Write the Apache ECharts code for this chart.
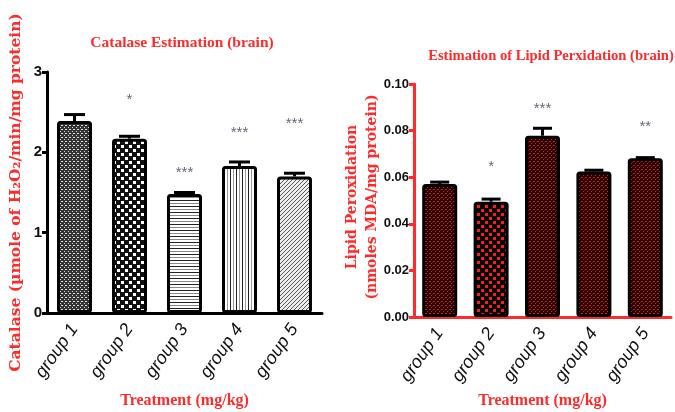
<!DOCTYPE html>
<html lang="en">
<head>
<meta charset="utf-8" />
<title>Catalase / Lipid Peroxidation</title>
<script src="https://cdn.jsdelivr.net/npm/echarts@6/dist/echarts.min.js"></script>
<style>
  html, body { margin: 0; padding: 0; background: #fff; }
  #main { width: 675px; height: 412px; }
</style>
</head>
<body>
<div id="main"></div>
<script type="text/javascript">
// categories
var groups = ['group 1', 'group 2', 'group 3', 'group 4', 'group 5'];

// catalase (left panel)
var catalaseMean = [2.39, 2.17, 1.48, 1.83, 1.70];
var catalaseErr  = [0.08, 0.03, 0.02, 0.05, 0.04];
var catalaseSig  = ['', '*', '***', '***', '***'];
var catalaseSigY = [0, 2.65, 1.74, 2.24, 2.36];

// lipid peroxidation (right panel)
var lipidMean = [0.0571, 0.0495, 0.0778, 0.0625, 0.0681];
var lipidErr  = [0.0008, 0.0011, 0.0032, 0.0005, 0.0003];
var lipidSig  = ['', '*', '***', '', '**'];
var lipidSigY = [0, 0.0645, 0.0893, 0, 0.0815];

var RED = '#ff2b2b';
var serif = '"Liberation Serif", "DejaVu Serif", serif';
var wideSerif = '"DejaVu Serif", "Liberation Serif", serif';
var sans = '"Liberation Sans", Arial, sans-serif';

// small canvas fills to mimic the hatch patterns
function pat(w, h, draw) {
    var c = document.createElement('canvas');
    c.width = w; c.height = h;
    var g = c.getContext('2d');
    draw(g);
    return { image: c, repeat: 'repeat' };
}
var leftFills = [
    pat(4, 4, function (g) { g.fillStyle = '#333'; g.fillRect(0, 0, 4, 4); g.fillStyle = '#ddd'; g.fillRect(1, 1, 2, 1); g.fillRect(0, 3, 1, 1); }),
    pat(8, 8, function (g) { g.fillStyle = '#111'; g.fillRect(0, 0, 8, 8); g.fillStyle = '#fff'; g.fillRect(1, 1, 3, 3); g.fillRect(5, 5, 3, 3); }),
    pat(6, 6, function (g) { g.fillStyle = '#fff'; g.fillRect(0, 0, 6, 6); g.fillStyle = '#222'; g.fillRect(0, 2, 6, 1); g.fillStyle = '#888'; g.fillRect(0, 5, 6, 1); }),
    pat(6, 6, function (g) { g.fillStyle = '#fff'; g.fillRect(0, 0, 6, 6); g.fillStyle = '#222'; g.fillRect(2, 0, 1, 6); g.fillStyle = '#999'; g.fillRect(5, 0, 1, 6); }),
    pat(4, 4, function (g) { g.fillStyle = '#eee'; g.fillRect(0, 0, 4, 4); g.fillStyle = '#555'; g.fillRect(3, 0, 1, 1); g.fillRect(2, 1, 1, 1); g.fillRect(1, 2, 1, 1); g.fillRect(0, 3, 1, 1); })
];
var redDense = pat(4, 4, function (g) { g.fillStyle = '#1a0000'; g.fillRect(0, 0, 4, 4); g.fillStyle = '#e81212'; g.fillRect(1, 1, 2, 1); g.fillRect(3, 3, 1, 1); g.fillStyle = '#800'; g.fillRect(0, 2, 1, 1); });
var redBig = pat(8, 8, function (g) { g.fillStyle = '#000'; g.fillRect(0, 0, 8, 8); g.fillStyle = '#ff1a1a'; g.fillRect(1, 1, 3, 3); g.fillRect(5, 5, 3, 3); });
var rightFills = [redDense, redBig, redDense, redDense, redDense];

function barData(vals, fills) {
    return vals.map(function (v, i) { return { value: v, itemStyle: { color: fills[i] } }; });
}
function errData(mean, err) {
    return mean.map(function (v, i) { return [i, v, v + err[i]]; });
}
function sigData(ys, marks) {
    var out = [];
    marks.forEach(function (m, i) { if (m) out.push({ value: [i, ys[i]], mark: m }); });
    return out;
}
function errRender(capW, color) {
    return function (params, api) {
        var lo = api.coord([api.value(0), api.value(1)]);
        var hi = api.coord([api.value(0), api.value(2)]);
        var st = { stroke: color, lineWidth: 3 };
        return {
            type: 'group',
            children: [
                { type: 'line', shape: { x1: lo[0], y1: lo[1], x2: hi[0], y2: hi[1] }, style: st },
                { type: 'line', shape: { x1: hi[0] - capW / 2, y1: hi[1], x2: hi[0] + capW / 2, y2: hi[1] }, style: st }
            ]
        };
    };
}

var chart = echarts.init(document.getElementById('main'), null, { renderer: 'canvas' });

var xLabel = { rotate: 55, fontSize: 18, fontStyle: 'italic', color: '#111', fontFamily: sans, margin: 13, interval: 0 };
var xName = { color: RED, fontWeight: 'bold', fontSize: 16, fontFamily: serif };

var option = {
    animation: false,
    backgroundColor: '#fff',
    title: [
        { text: 'Catalase Estimation (brain)', left: 177, top: 30, textAlign: 'center',
          textStyle: { color: RED, fontSize: 15.5, fontWeight: 'bold', fontFamily: serif } },
        { text: 'Estimation of Lipid Perxidation (brain)', left: 546, top: 44, textAlign: 'center',
          textStyle: { color: RED, fontSize: 14.6, fontWeight: 'bold', fontFamily: serif } }
    ],
    grid: [
        { left: 47, top: 72, width: 275, height: 241, outerBoundsMode: 'none', containLabel: false },
        { left: 414, top: 84, width: 257, height: 233, outerBoundsMode: 'none', containLabel: false }
    ],
    xAxis: [
        { type: 'category', gridIndex: 0, data: groups,
          axisLine: { lineStyle: { color: '#000', width: 3 } },
          axisTick: { alignWithLabel: true, length: 7, lineStyle: { color: '#000', width: 3 } },
          axisLabel: xLabel,
          name: 'Treatment (mg/kg)', nameLocation: 'middle', nameGap: 80, nameTextStyle: xName },
        { type: 'category', gridIndex: 1, data: groups,
          axisLine: { lineStyle: { color: RED, width: 3 } },
          axisTick: { alignWithLabel: true, length: 7, lineStyle: { color: RED, width: 3 } },
          axisLabel: xLabel,
          name: 'Treatment (mg/kg)', nameLocation: 'middle', nameGap: 76, nameTextStyle: xName }
    ],
    yAxis: [
        { type: 'value', gridIndex: 0, min: 0, max: 3, interval: 1,
          splitLine: { show: false },
          axisLine: { show: true, lineStyle: { color: '#000', width: 3 } },
          axisTick: { show: true, length: 5, lineStyle: { color: '#000', width: 3 } },
          axisLabel: { color: '#111', fontWeight: 'bold', fontSize: 15, fontFamily: sans, margin: 5 },
          name: 'Catalase (\u00b5mole of H\u2082O\u2082/min/mg protein)', nameLocation: 'middle', nameRotate: 90, nameGap: 23,
          nameTextStyle: { color: RED, fontWeight: 'bold', fontSize: 15.5, fontFamily: wideSerif } },
        { type: 'value', gridIndex: 1, min: 0, max: 0.1, interval: 0.02,
          splitLine: { show: false },
          axisLine: { show: true, lineStyle: { color: RED, width: 3 } },
          axisTick: { show: true, length: 5, lineStyle: { color: RED, width: 3 } },
          axisLabel: { color: '#111', fontWeight: 'bold', fontSize: 13, fontFamily: sans, margin: 5,
                       formatter: function (v) { return v.toFixed(2); } } }
    ],
    graphic: [
        { type: 'text', x: 362, y: 197, rotation: Math.PI / 2,
          style: { text: 'Lipid Peroxidation\n(nmoles MDA/mg protein)', align: 'center', verticalAlign: 'middle',
                   fill: RED, font: 'bold 14px ' + wideSerif, lineHeight: 20 } }
    ],
    series: [
        { type: 'bar', xAxisIndex: 0, yAxisIndex: 0, barWidth: 35, z: 2,
          itemStyle: { borderColor: '#000', borderWidth: 3, borderRadius: 2 },
          data: barData(catalaseMean, leftFills) },
        { type: 'custom', xAxisIndex: 0, yAxisIndex: 0, z: 3, renderItem: errRender(21, '#000'),
          encode: { x: 0, y: [1, 2] }, data: errData(catalaseMean, catalaseErr) },
        { type: 'scatter', xAxisIndex: 0, yAxisIndex: 0, symbolSize: 0,
          label: { show: true, position: 'inside', color: '#3a3f55', fontSize: 15,
                   formatter: function (p) { return p.data.mark; } },
          data: sigData(catalaseSigY, catalaseSig) },

        { type: 'bar', xAxisIndex: 1, yAxisIndex: 1, barWidth: 35, z: 2,
          itemStyle: { borderColor: '#000', borderWidth: 3, borderRadius: 2 },
          data: barData(lipidMean, rightFills) },
        { type: 'custom', xAxisIndex: 1, yAxisIndex: 1, z: 3, renderItem: errRender(19, '#000'),
          encode: { x: 0, y: [1, 2] }, data: errData(lipidMean, lipidErr) },
        { type: 'scatter', xAxisIndex: 1, yAxisIndex: 1, symbolSize: 0,
          label: { show: true, position: 'inside', color: '#3a3f55', fontSize: 15,
                   formatter: function (p) { return p.data.mark; } },
          data: sigData(lipidSigY, lipidSig) }
    ]
};
chart.setOption(option);
</script>
</body>
</html>
